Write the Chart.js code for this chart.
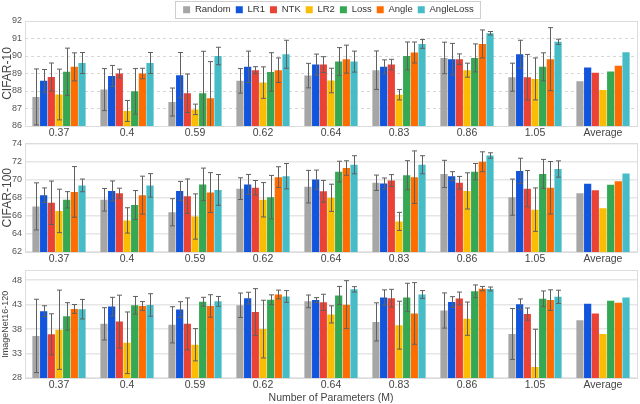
<!DOCTYPE html>
<html>
<head>
<meta charset="utf-8">
<script src="https://cdn.jsdelivr.net/npm/chart.js@4.4.1/dist/chart.umd.min.js"></script>
<style>
  body { margin: 0; background: #fff; width: 640px; height: 404px; overflow: hidden; position: relative; }
  canvas { position: absolute; left: 0; }
</style>
</head>
<body>
<canvas id="c10" width="640" height="142" style="top:0"></canvas>
<canvas id="c100" width="640" height="133" style="top:135px"></canvas>
<canvas id="inet" width="640" height="142" style="top:262px"></canvas>
<script>
const categories = ['0.37', '0.4', '0.59', '0.62', '0.64', '0.83', '0.86', '1.05', 'Average'];
const methods = ['Random', 'LR1', 'NTK', 'LR2', 'Loss', 'Angle', 'AngleLoss'];
const colors = ['#a6a6a6', '#1155dd', '#ea4335', '#fbbc04', '#34a853', '#ff6d01', '#46bdc6'];

// CIFAR-10 accuracy
const c10Random    = [87.66, 88.08, 87.37, 88.58, 88.88, 89.19, 89.89, 88.79, 88.56];
const c10LR1       = [88.58, 88.86, 88.90, 89.38, 89.51, 89.38, 89.82, 90.10, 89.34];
const c10NTK       = [88.80, 89.00, 87.87, 89.19, 89.51, 89.51, 89.82, 88.79, 89.05];
const c10LR2       = [87.80, 86.86, 86.95, 88.48, 88.60, 87.79, 89.19, 88.69, 88.06];
const c10Loss      = [89.10, 87.98, 87.87, 89.09, 89.68, 90.00, 89.89, 89.38, 89.11];
const c10Angle     = [89.38, 89.00, 87.58, 89.19, 89.82, 90.20, 90.69, 89.82, 89.45];
const c10AngleLoss = [89.60, 89.60, 90.00, 90.10, 89.68, 90.69, 91.30, 90.81, 90.22];
const c10RandomErr    = [1.6, 1.2, 0.8, 0.7, 0.7, 1.1, 0.9, 0.8, null];
const c10LR1Err       = [0.65, 0.6, 1.3, 0.9, 0.6, 0.4, 0.9, 0.8, null];
const c10NTKErr       = [0.8, 0.25, 1.1, 0.2, 0.45, 0.3, 0.3, 1.3, null];
const c10LR2Err       = [1.45, 0.6, 0.3, 0.9, 0.7, 0.3, 0.4, 1.2, null];
const c10LossErr      = [1.35, 1.3, 2.4, 1.1, 0.8, 0.8, 0.8, 0.8, null];
const c10AngleErr     = [0.8, 0.3, 2.1, 0.7, 0.8, 0.6, 0.8, 1.8, null];
const c10AngleLossErr = [0.6, 0.6, 0.5, 0.8, 0.6, 0.25, 0.1, 0.15, null];
const c10Ticks = [86, 87, 88, 89, 90, 91, 92];

// CIFAR-100 accuracy
const c100Random    = [67.04, 67.77, 66.39, 69.00, 69.22, 69.65, 70.63, 68.06, 68.49];
const c100LR1       = [68.28, 68.75, 68.75, 69.47, 70.00, 69.58, 70.38, 70.96, 69.54];
const c100NTK       = [67.44, 68.50, 68.17, 69.10, 68.71, 69.90, 69.65, 69.00, 68.82];
const c100LR2       = [66.54, 65.49, 65.92, 67.77, 67.99, 65.38, 68.75, 66.68, 66.83];
const c100Loss      = [67.77, 67.19, 69.47, 68.06, 70.88, 70.49, 70.88, 70.63, 69.43];
const c100Angle     = [68.64, 68.28, 68.57, 70.27, 71.28, 70.27, 71.97, 69.10, 69.83];
const c100AngleLoss = [69.36, 69.36, 68.86, 70.38, 71.64, 71.64, 72.66, 71.17, 70.67];
const c100RandomErr    = [2.6, 1.25, 1.5, 1.2, 1.8, 0.85, 1.5, 2.0, null];
const c100LR1Err       = [0.8, 1.1, 1.05, 1.1, 1.05, 0.6, 0.5, 1.4, null];
const c100NTKErr       = [2.4, 0.55, 1.9, 0.8, 1.2, 0.65, 0.7, 2.0, null];
const c100LR2Err       = [2.4, 1.4, 2.5, 1.9, 1.5, 1.0, 2.0, 2.4, null];
const c100LossErr      = [0.9, 1.6, 1.8, 2.4, 1.15, 1.6, 0.9, 1.6, null];
const c100AngleErr     = [2.8, 2.1, 2.2, 1.15, 0.8, 2.9, 1.1, 2.9, null];
const c100AngleLossErr = [0.7, 1.3, 1.7, 1.4, 1.0, 1.0, 0.3, 0.9, null];
const c100Ticks = [62, 64, 66, 68, 70, 72, 74];

// ImageNet16-120 accuracy
const inRandom    = [36.60, 39.07, 38.87, 42.87, 43.67, 39.47, 41.80, 37.00, 39.80];
const inLR1       = [41.67, 42.60, 42.00, 44.33, 43.93, 44.47, 43.53, 43.07, 43.20];
const inNTK       = [36.93, 39.53, 39.07, 41.47, 43.47, 44.33, 44.27, 41.07, 41.20];
const inLR2       = [37.87, 35.20, 34.80, 38.00, 41.00, 38.80, 40.13, 30.27, 37.00];
const inLoss      = [40.60, 42.87, 43.60, 44.00, 44.87, 44.47, 45.73, 44.20, 43.80];
const inAngle     = [42.13, 42.73, 42.73, 45.07, 43.00, 41.20, 46.27, 43.93, 43.40];
const inAngleLoss = [42.07, 42.93, 43.67, 44.67, 46.13, 45.07, 46.20, 44.60, 44.47];
const inRandomErr    = [7.5, 3.3, 3.7, 2.5, 1.3, 3.9, 3.6, 5.2, null];
const inLR1Err       = [1.1, 1.9, 1.6, 1.2, 0.5, 1.55, 1.1, 1.1, null];
const inNTKErr       = [4.2, 5.4, 5.3, 4.8, 1.65, 1.8, 1.3, 1.25, null];
const inLR2Err       = [8.1, 6.3, 3.3, 5.9, 1.75, 4.9, 3.4, 7.7, null];
const inLossErr      = [2.8, 1.8, 0.9, 1.0, 1.85, 2.9, 1.3, 1.6, null];
const inAngleErr     = [0.9, 0.9, 2.3, 0.9, 4.9, 6.3, 0.45, 2.1, null];
const inAngleLossErr = [2.0, 2.3, 1.0, 1.2, 0.55, 0.8, 0.4, 1.35, null];
const inTicks = [28, 33, 38, 43, 48];

Chart.defaults.font.family = '"Liberation Sans", Arial, sans-serif';
Chart.defaults.color = '#555';
Chart.defaults.animation = false;

// whiskers drawn from each dataset's errs array
const errorBars = {
  id: 'errorBars',
  afterDatasetsDraw(chart) {
    const ctx = chart.ctx, y = chart.scales.y, area = chart.chartArea;
    ctx.save();
    ctx.beginPath();
    ctx.rect(area.left, area.top, area.right - area.left, area.bottom - area.top);
    ctx.clip();
    ctx.strokeStyle = '#606060';
    ctx.lineWidth = 1;
    chart.data.datasets.forEach((ds, i) => {
      const meta = chart.getDatasetMeta(i);
      ds.errs.forEach((e, j) => {
        if (e == null) return;
        const x = Math.round(meta.data[j].x) + 0.5;
        const top = y.getPixelForValue(ds.data[j] + e);
        const bot = y.getPixelForValue(ds.data[j] - e);
        ctx.beginPath();
        ctx.moveTo(x, top); ctx.lineTo(x, bot);
        ctx.moveTo(x - 2.5, top); ctx.lineTo(x + 2.5, top);
        ctx.moveTo(x - 2.5, bot); ctx.lineTo(x + 2.5, bot);
        ctx.stroke();
      });
    });
    ctx.restore();
  }
};

// light frame round the plot area
const frame = {
  id: 'frame',
  beforeDatasetsDraw(chart) {
    const ctx = chart.ctx, a = chart.chartArea;
    ctx.save();
    ctx.strokeStyle = '#dcdcdc';
    ctx.lineWidth = 1;
    ctx.strokeRect(Math.round(a.left) + 0.5, Math.round(a.top) + 0.5, Math.round(a.right - a.left), Math.round(a.bottom - a.top));
    ctx.restore();
  }
};

// squeeze the legend, move it right a little and box it
const legendBox = {
  id: 'legendBox',
  beforeLayout(chart) {
    const lg = chart.legend;
    if (lg._squeezed) return;
    const fit = lg.fit;
    lg.fit = function () { fit.call(this); this.height = 21; };
    lg._squeezed = true;
  },
  afterLayout(chart) {
    chart.legend.left += 10;
    chart.legend.right += 10;
  },
  afterDraw(chart) {
    const lg = chart.legend;
    const pad = lg.options.labels.padding;
    const start = (lg.left + pad + lg.right - lg.lineWidths[0]) / 2;
    const end = start + lg.lineWidths[0] - pad;
    const ctx = chart.ctx;
    ctx.save();
    ctx.strokeStyle = '#cfcfcf';
    ctx.lineWidth = 1;
    ctx.strokeRect(Math.round(start - 8) + 0.5, 1.5, Math.round(end - start + 14), 17);
    ctx.restore();
  }
};

function makeChart(id, series, errs, ticks, yTitle, opts) {
  const datasets = methods.map((m, i) => ({
    label: m,
    data: series[i],
    errs: errs[i],
    backgroundColor: colors[i],
    categoryPercentage: 0.79,
    barPercentage: 0.94
  }));
  return new Chart(document.getElementById(id), {
    type: 'bar',
    data: { labels: categories, datasets },
    plugins: [frame, errorBars].concat(opts.legend ? [legendBox] : []),
    options: {
      responsive: false,
      layout: { padding: opts.padding },
      plugins: {
        legend: opts.legend ? {
          display: true,
          position: 'top',
          labels: { boxWidth: 7, boxHeight: 7, padding: 5, color: '#333', font: { size: 9.5 } }
        } : { display: false },
        tooltip: { enabled: false }
      },
      scales: {
        x: {
          afterFit: s => { s.height = opts.xHeight; },
          grid: { display: false, drawTicks: false },
          border: { color: '#c8c8c8' },
          ticks: { color: '#444', font: { size: 10.5 }, padding: 1 },
          title: opts.xTitle ? { display: true, text: opts.xTitle, color: '#444', font: { size: 10.5 }, padding: { top: 0, bottom: 0 } } : { display: false }
        },
        y: {
          min: ticks[0],
          max: opts.max,
          afterBuildTicks: s => { s.ticks = ticks.map(v => ({ value: v })); },
          afterFit: s => { s.width = 25; },
          grid: { color: opts.gridColor, lineWidth: opts.gridWidth, drawTicks: false },
          border: { display: false, dash: opts.dash },
          ticks: { color: '#555', font: { size: 9 }, padding: 3 },
          title: { display: true, text: yTitle, color: '#444', font: { size: opts.titleSize }, padding: 0 }
        }
      }
    }
  });
}

makeChart('c10',
  [c10Random, c10LR1, c10NTK, c10LR2, c10Loss, c10Angle, c10AngleLoss],
  [c10RandomErr, c10LR1Err, c10NTKErr, c10LR2Err, c10LossErr, c10AngleErr, c10AngleLossErr],
  c10Ticks, 'CIFAR-10',
  { legend: true, max: 92, xHeight: 16, padding: { top: 0, right: 3, bottom: 0, left: 0 }, gridColor: '#d6d6d6', gridWidth: 1, dash: [3, 3], titleSize: 12 });

makeChart('c100',
  [c100Random, c100LR1, c100NTK, c100LR2, c100Loss, c100Angle, c100AngleLoss],
  [c100RandomErr, c100LR1Err, c100NTKErr, c100LR2Err, c100LossErr, c100AngleErr, c100AngleLossErr],
  c100Ticks, 'CIFAR-100',
  { max: 74, xHeight: 16, padding: { top: 7, right: 3, bottom: 0, left: 0 }, gridColor: '#e6e6e6', gridWidth: 1.5, dash: [], titleSize: 12 });

makeChart('inet',
  [inRandom, inLR1, inNTK, inLR2, inLoss, inAngle, inAngleLoss],
  [inRandomErr, inLR1Err, inNTKErr, inLR2Err, inLossErr, inAngleErr, inAngleLossErr],
  inTicks, 'ImageNet16-120',
  { max: 50, xHeight: 26, xTitle: 'Number of Parameters (M)', padding: { top: 6, right: 3, bottom: 0, left: 0 }, gridColor: '#e6e6e6', gridWidth: 1.5, dash: [], titleSize: 9 });
</script>
</body>
</html>
